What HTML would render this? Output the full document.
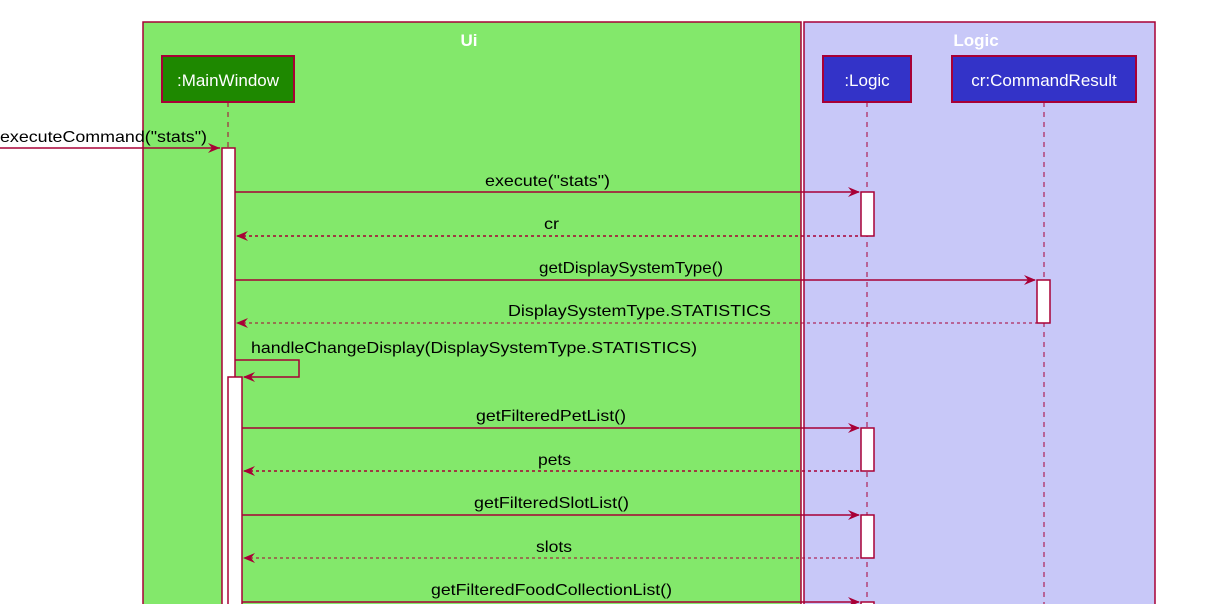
<!DOCTYPE html>
<html><head><meta charset="utf-8"><style>
html,body{margin:0;padding:0;background:#fff;width:1225px;height:604px;overflow:hidden}
svg{display:block}
text{font-family:"Liberation Sans",sans-serif;font-size:16px;fill:#000}
</style></head><body>
<svg width="1225" height="604" viewBox="0 0 1225 604" xmlns="http://www.w3.org/2000/svg">
<defs>
<g id="ar"><polygon points="0,0 -12,-5 -8,0 -12,5" fill="#a80036"/></g>
<g id="al"><polygon points="0,0 12,-5 8,0 12,5" fill="#a80036"/></g>
</defs>
<!-- boxes -->
<rect x="143" y="22" width="658" height="600" fill="#83e86b" stroke="#a80036" stroke-width="1.5"/>
<rect x="804" y="22" width="351" height="600" fill="#c8c8f8" stroke="#a80036" stroke-width="1.5"/>
<text x="469" y="46" text-anchor="middle" style="font-weight:bold;fill:#fff;font-size:17px">Ui</text>
<text x="976" y="46" text-anchor="middle" style="font-weight:bold;fill:#fff;font-size:17px">Logic</text>
<!-- participants -->
<rect x="162" y="56" width="132" height="46" fill="#1e8800" stroke="#a80036" stroke-width="2"/>
<text x="228" y="86" text-anchor="middle" style="fill:#fff;font-size:17px">:MainWindow</text>
<rect x="823" y="56" width="88" height="46" fill="#3333c8" stroke="#a80036" stroke-width="2"/>
<text x="867" y="86" text-anchor="middle" style="fill:#fff;font-size:17px">:Logic</text>
<rect x="952" y="56" width="184" height="46" fill="#3333c8" stroke="#a80036" stroke-width="2"/>
<text x="1044" y="86" text-anchor="middle" style="fill:#fff;font-size:17px">cr:CommandResult</text>
<!-- lifelines -->
<g stroke="#a80036" stroke-width="1" stroke-dasharray="5,5">
<line x1="228" y1="102" x2="228" y2="604"/>
<line x1="867" y1="102" x2="867" y2="604"/>
<line x1="1044" y1="102" x2="1044" y2="604"/>
</g>
<!-- activations -->
<g fill="#fff" stroke="#a80036" stroke-width="1.5">
<rect x="222" y="148" width="13" height="470"/>
<rect x="228" y="377" width="14" height="240"/>
<rect x="861" y="192" width="13" height="44"/>
<rect x="1037" y="280" width="13" height="43"/>
<rect x="861" y="428" width="13" height="43"/>
<rect x="861" y="515" width="13" height="43"/>
<rect x="861" y="602" width="13" height="20"/>
</g>
<!-- messages -->
<g stroke="#a80036" stroke-width="1.5" fill="none">
<line x1="0" y1="148" x2="220" y2="148"/>
<line x1="235" y1="192" x2="859" y2="192"/>
<line x1="237" y1="236" x2="861" y2="236" stroke-dasharray="3,3"/>
<line x1="235" y1="280" x2="1035" y2="280"/>
<line x1="237" y1="323" x2="1037" y2="323" stroke-dasharray="3,3" stroke-width="1"/>
<polyline points="235,360 299,360 299,377 244,377"/>
<line x1="242" y1="428" x2="859" y2="428"/>
<line x1="244" y1="471" x2="861" y2="471" stroke-dasharray="3,3"/>
<line x1="242" y1="515" x2="859" y2="515"/>
<line x1="244" y1="558" x2="861" y2="558" stroke-dasharray="3,3" stroke-width="1"/>
<line x1="242" y1="602" x2="859" y2="602"/>
</g>
<use href="#ar" x="220" y="148"/>
<use href="#ar" x="860" y="192"/>
<use href="#al" x="236" y="236"/>
<use href="#ar" x="1036" y="280"/>
<use href="#al" x="236" y="323"/>
<use href="#al" x="243" y="377"/>
<use href="#ar" x="860" y="428"/>
<use href="#al" x="243" y="471"/>
<use href="#ar" x="860" y="515"/>
<use href="#al" x="243" y="558"/>
<use href="#ar" x="860" y="602"/>
<!-- labels -->
<text x="0" y="142" textLength="207" lengthAdjust="spacingAndGlyphs">executeCommand("stats")</text>
<text x="485" y="186" textLength="125" lengthAdjust="spacingAndGlyphs">execute("stats")</text>
<text x="544" y="229" textLength="15" lengthAdjust="spacingAndGlyphs">cr</text>
<text x="539" y="273" textLength="184" lengthAdjust="spacingAndGlyphs">getDisplaySystemType()</text>
<text x="508" y="316" textLength="263" lengthAdjust="spacingAndGlyphs">DisplaySystemType.STATISTICS</text>
<text x="251" y="353" textLength="446" lengthAdjust="spacingAndGlyphs">handleChangeDisplay(DisplaySystemType.STATISTICS)</text>
<text x="476" y="421" textLength="150" lengthAdjust="spacingAndGlyphs">getFilteredPetList()</text>
<text x="538" y="465" textLength="33" lengthAdjust="spacingAndGlyphs">pets</text>
<text x="474" y="508" textLength="155" lengthAdjust="spacingAndGlyphs">getFilteredSlotList()</text>
<text x="536" y="552" textLength="36" lengthAdjust="spacingAndGlyphs">slots</text>
<text x="431" y="595" textLength="241" lengthAdjust="spacingAndGlyphs">getFilteredFoodCollectionList()</text>
</svg>
</body></html>
